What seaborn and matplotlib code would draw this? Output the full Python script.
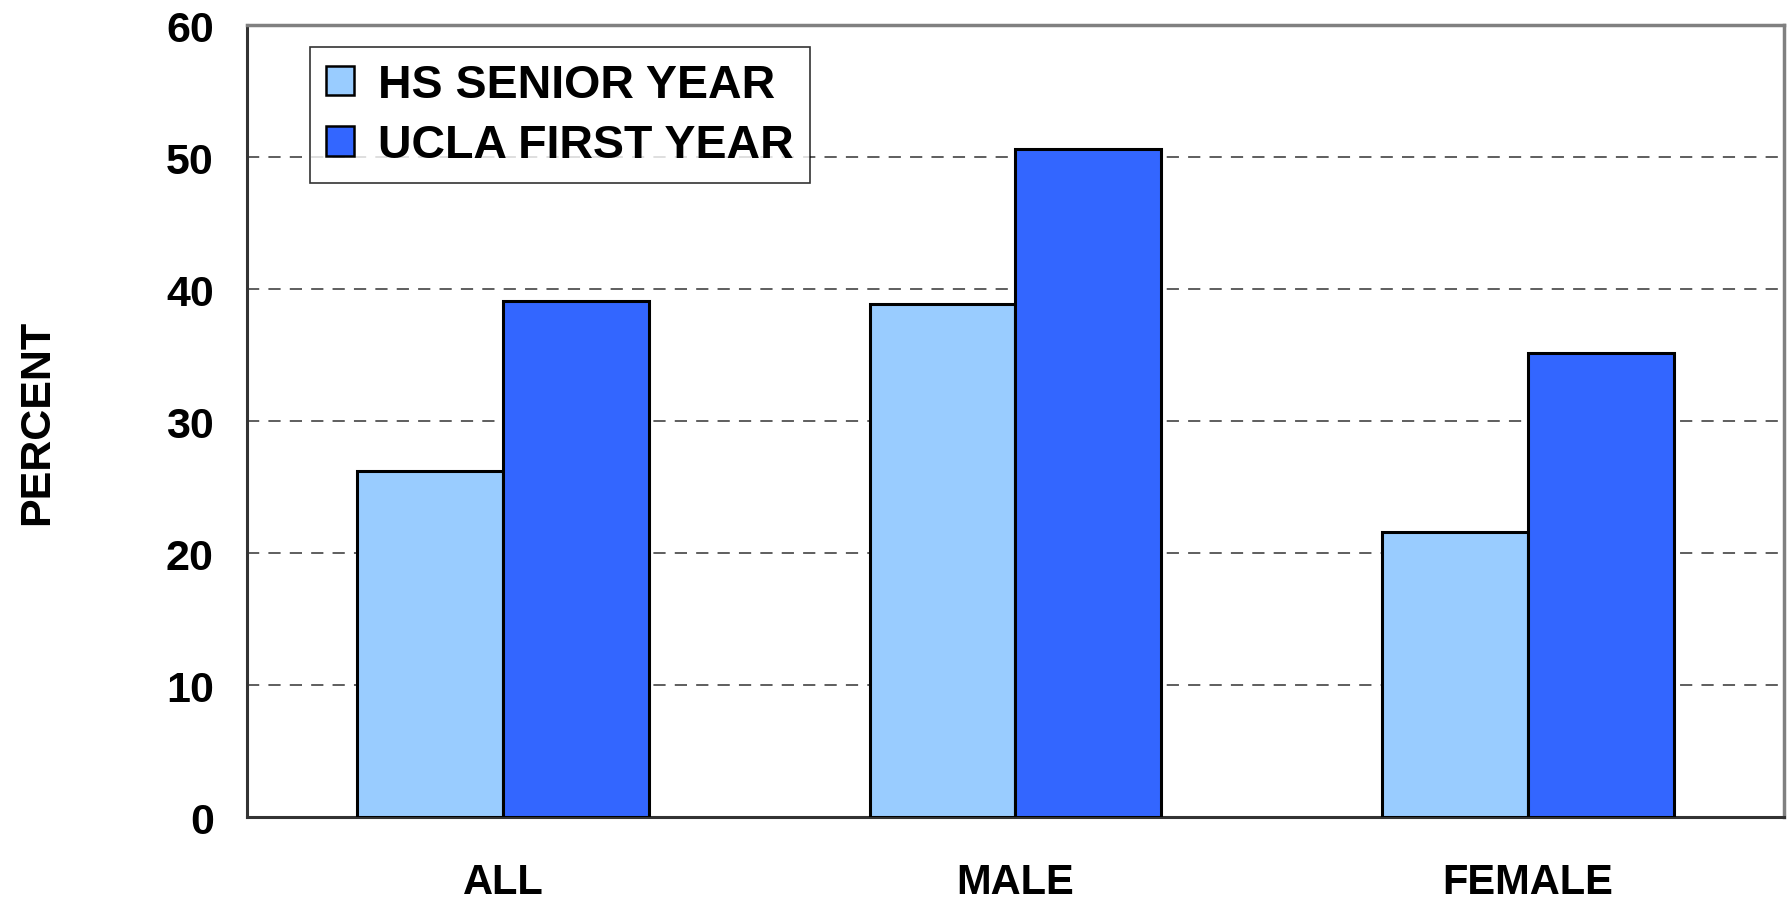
import matplotlib
matplotlib.use("Agg")
import matplotlib.pyplot as plt
import seaborn as sns
import pandas as pd

# chart values
groups = ["ALL", "MALE", "FEMALE"]
series = ["HS SENIOR YEAR", "UCLA FIRST YEAR"]
hs_senior = [26.2, 38.9, 21.6]
ucla_first = [39.1, 50.6, 35.2]
y_ticks = [0, 10, 20, 30, 40, 50, 60]

colors = ["#99CCFF", "#3366FF"]

df = pd.DataFrame({
    "group": groups * 2,
    "series": [series[0]] * 3 + [series[1]] * 3,
    "percent": hs_senior + ucla_first,
})

sns.set_style("white")
plt.rcParams["font.family"] = ["Liberation Sans", "DejaVu Sans"]
plt.rcParams["font.weight"] = "bold"
plt.rcParams["text.color"] = "black"
plt.rcParams["xtick.labelcolor"] = "black"
plt.rcParams["ytick.labelcolor"] = "black"
plt.rcParams["axes.labelcolor"] = "black"

fig = plt.figure(figsize=(17.91, 9.03), dpi=100)
ax = fig.add_axes([0.138, 0.094, 0.858, 0.877])

sns.barplot(data=df, x="group", y="percent", hue="series", order=groups,
            hue_order=series, palette=colors, width=0.57, gap=0,
            edgecolor="black", linewidth=2.2, saturation=1, ax=ax, zorder=3)

ax.set_ylim(0, 60)
ax.set_xlim(-0.5, 2.5)
ax.set_yticks(y_ticks)
ax.set_yticklabels([str(t) for t in y_ticks], fontsize=31, fontweight="bold")

# category ticks sit on the group boundaries, labels in the middle
ax.set_xticks([-0.5, 0.5, 1.5, 2.5])
ax.set_xticklabels([])
ax.set_xticks([0, 1, 2], minor=True)
ax.set_xticklabels(groups, minor=True, fontsize=30, fontweight="bold")
ax.tick_params(axis="x", which="minor", length=0, pad=32)
ax.tick_params(axis="x", which="major", length=13, width=1.2, color="#333333",
               direction="out")
ax.tick_params(axis="y", length=16, width=1.2, color="#333333", pad=8,
               direction="out")

for y in y_ticks[1:-1]:
    ax.axhline(y, color="#333333", linestyle=(0, (8, 6)), linewidth=1.1,
               zorder=1)

for side in ["left", "bottom"]:
    ax.spines[side].set_color("#333333")
    ax.spines[side].set_linewidth(2.2)
for side in ["top", "right"]:
    ax.spines[side].set_color("#808080")
    ax.spines[side].set_linewidth(2.5)

ax.set_xlabel("")
ax.set_ylabel("PERCENT", fontsize=31, fontweight="bold", labelpad=78)

leg = ax.legend(loc="upper left", bbox_to_anchor=(0.041, 0.973),
                prop={"weight": "bold", "size": 33.5}, frameon=True,
                fancybox=False, edgecolor="black", handlelength=0.6,
                handleheight=0.6, handletextpad=0.5, labelspacing=0.35,
                borderpad=0.35, borderaxespad=0)
leg.get_frame().set_linewidth(1.2)
for h in leg.legend_handles:
    h.set_edgecolor("black")
    h.set_linewidth(1.8)
for t in leg.get_texts():
    t.set_color("black")

fig.savefig("out.png", dpi=100)
